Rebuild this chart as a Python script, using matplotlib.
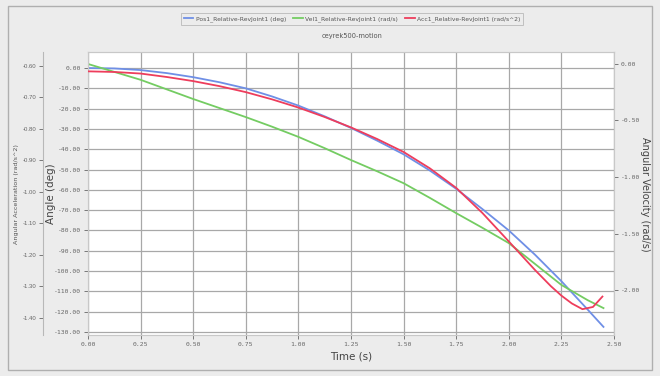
import matplotlib.pyplot as plt
from matplotlib.patches import Rectangle
from matplotlib.ticker import FormatStrFormatter, MultipleLocator

plt.rcParams['axes.unicode_minus'] = False

# sampled motion results for RevJoint1
time_s = [0.0, 0.125, 0.25, 0.375, 0.5, 0.625, 0.75, 0.875, 1.0, 1.125, 1.25,
          1.375, 1.5, 1.625, 1.75, 1.875, 2.0, 2.125, 2.25, 2.375, 2.45]
pos_deg = [0.0, -0.2, -1.0, -2.5, -4.5, -7.0, -10.0, -14.0, -18.5, -23.8, -29.5,
           -35.8, -42.5, -50.5, -59.5, -69.5, -80.0, -92.0, -105.0, -119.0, -127.5]
vel_rad = [0.0, -0.07, -0.14, -0.225, -0.31, -0.39, -0.47, -0.555, -0.645, -0.745, -0.85,
           -0.95, -1.055, -1.185, -1.32, -1.45, -1.585, -1.77, -1.955, -2.09, -2.16]

acc_time = [0.0, 0.125, 0.25, 0.375, 0.5, 0.625, 0.75, 0.875, 1.0, 1.125, 1.25,
            1.375, 1.5, 1.625, 1.75, 1.875, 2.0, 2.125, 2.2, 2.25, 2.3, 2.35, 2.4, 2.445]
acc_rad = [-0.617, -0.619, -0.624, -0.635, -0.648, -0.664, -0.683, -0.706, -0.732, -0.762,
           -0.795, -0.832, -0.873, -0.925, -0.987, -1.067, -1.157, -1.248, -1.299, -1.329,
           -1.354, -1.372, -1.365, -1.332]

bg = '#ECECEC'
grid_c = '#A8A8A8'
txt_c = '#666666'
blue, green, red = '#6f8fe6', '#74cc62', '#ee3d5c'
mono = 'DejaVu Sans Mono'

W, H = 660, 376
fig = plt.figure(figsize=(W / 100, H / 100), dpi=100, facecolor=bg)
fig.patches.append(Rectangle((8 / W, 6 / H), 644 / W, 364 / H, transform=fig.transFigure,
                             fill=False, edgecolor='#AFAFAF', linewidth=1))

ax = fig.add_axes([88 / W, 1 - 335 / H, 526 / W, 283 / H])
ax.set_facecolor('white')
ax_vel = ax.twinx()
ax_acc = ax.twinx()

# angle axis (inner left)
ax.set_xlim(0, 2.5)
ax.set_ylim(-131.5, 7.9)
ax.xaxis.set_major_locator(MultipleLocator(0.25))
ax.yaxis.set_major_locator(MultipleLocator(10))
ax.xaxis.set_major_formatter(FormatStrFormatter('%.2f'))
ax.yaxis.set_major_formatter(FormatStrFormatter('%.2f'))
ax.grid(True, color=grid_c, linewidth=0.9)
ax.set_axisbelow(True)

# velocity axis (right)
ax_vel.set_ylim(-2.398, 0.106)
ax_vel.set_yticks([0.0, -0.5, -1.0, -1.5, -2.0])
ax_vel.yaxis.set_major_formatter(FormatStrFormatter('%.2f'))

# acceleration axis (outer left)
ax_acc.set_ylim(-1.454, -0.5556)
ax_acc.set_yticks([-0.6, -0.7, -0.8, -0.9, -1.0, -1.1, -1.2, -1.3, -1.4])
ax_acc.yaxis.set_major_formatter(FormatStrFormatter('%.2f'))
ax_acc.yaxis.set_ticks_position('left')
ax_acc.spines['left'].set_position(('outward', 32.4))
ax_acc.spines['left'].set_visible(True)
ax_acc.spines['left'].set_color('#B8B8B8')
for s in ['top', 'right', 'bottom']:
    ax_acc.spines[s].set_visible(False)

for a in (ax, ax_vel):
    for s in a.spines.values():
        s.set_color('#C8C8C8')

for a in (ax, ax_vel):
    a.tick_params(labelsize=4.6, colors=txt_c, length=3, width=0.6, pad=2)
    for lbl in a.get_xticklabels() + a.get_yticklabels():
        lbl.set_family(mono)
ax_acc.tick_params(labelsize=4.3, colors=txt_c, length=3, width=0.6, pad=1.5)
for lbl in ax_acc.get_yticklabels():
    lbl.set_family('Liberation Sans')

l1, = ax.plot(time_s, pos_deg, color=blue, linewidth=1.3,
              label='Pos1_Relative-RevJoint1 (deg)')
l2, = ax_vel.plot(time_s, vel_rad, color=green, linewidth=1.3,
                  label='Vel1_Relative-RevJoint1 (rad/s)')
l3, = ax_acc.plot(acc_time, acc_rad, color=red, linewidth=1.3,
                  label='Acc1_Relative-RevJoint1 (rad/s^2)')

ax.set_xlabel('Time (s)', fontsize=7.5, color='#444444', labelpad=3)
fig.text(51 / W, 1 - 194 / H, 'Angle (deg)', rotation=90, ha='center', va='center',
         fontsize=7.5, color='#444444')
fig.text(17 / W, 1 - 194 / H, 'Angular Acceleration (rad/s^2)', rotation=90,
         ha='center', va='center', fontsize=4.6, color='#555555')
fig.text(645 / W, 1 - 194 / H, 'Angular Velocity (rad/s)', rotation=270,
         ha='center', va='center', fontsize=7, color='#444444')

leg = fig.legend(handles=[l1, l2, l3], loc='upper center', bbox_to_anchor=(352 / W, 1 - 10 / H),
                 ncol=3, fontsize=4.3, frameon=True, fancybox=False, handlelength=1.6,
                 columnspacing=1.2, handletextpad=0.4, borderpad=0.5)
leg.get_frame().set_facecolor(bg)
leg.get_frame().set_edgecolor('#B5B5B5')
leg.get_frame().set_linewidth(0.7)
for t in leg.get_texts():
    t.set_color('#555555')

fig.text(352 / W, 1 - 36 / H, 'ceyrek500-motion', ha='center', va='center',
         fontsize=4.8, color='#555555')

fig.savefig('out.png', dpi=100, facecolor=bg)
